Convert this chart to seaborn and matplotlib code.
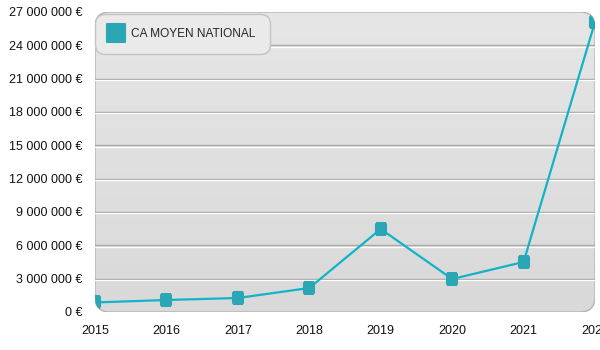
import numpy as np
import pandas as pd
import matplotlib
matplotlib.use("Agg")
import matplotlib.pyplot as plt
import matplotlib.transforms as mtransforms
from matplotlib.patches import FancyBboxPatch
from matplotlib.markers import MarkerStyle
from matplotlib.lines import Line2D
from matplotlib.ticker import FuncFormatter, MultipleLocator
import seaborn as sns

years = [2015, 2016, 2017, 2018, 2019, 2020, 2021, 2022]
ca_moyen = [860_000, 1_080_000, 1_260_000, 2_160_000, 7_470_000, 2_970_000, 4_500_000, 26_100_000]
series_name = "CA MOYEN NATIONAL"

df = pd.DataFrame({"annee": years, "ca": ca_moyen})

sns.set_theme(style="white")
plt.rcParams["font.family"] = ["Liberation Sans", "DejaVu Sans"]

line_color = "#12b3c6"
marker_color = "#2aa6b4"

fig = plt.figure(figsize=(6, 3.5), dpi=100)
ax = fig.add_axes([95 / 600, 1 - 312 / 350, 500 / 600, 300 / 350])
ax.set_facecolor("none")
for s in ax.spines.values():
    s.set_visible(False)

# rounded panel with a soft vertical gradient
panel = FancyBboxPatch((0, 0), 1, 1, boxstyle="round,pad=0,rounding_size=0.03",
                       transform=ax.transAxes, facecolor="none",
                       edgecolor="#b4b4b4", linewidth=1.0, zorder=0.5,
                       mutation_aspect=500 / 300)
ax.add_patch(panel)
grad = np.linspace(0, 1, 256).reshape(-1, 1)
img = ax.imshow(grad, extent=[0, 1, 0, 1], transform=ax.transAxes, aspect="auto",
                cmap=matplotlib.colors.LinearSegmentedColormap.from_list(
                    "panel", ["#e6e6e6", "#d9d9d9"]), origin="upper", zorder=0.2)
img.set_clip_path(panel)

ax.set_xlim(2015, 2022)
ax.set_ylim(0, 27_000_000)

# grid lines: grey rule with a white highlight just below
ax.yaxis.set_major_locator(MultipleLocator(3_000_000))
white_off = mtransforms.offset_copy(ax.transData, fig=fig, x=0, y=-1.2, units="dots")
for v in np.arange(3_000_000, 27_000_000, 3_000_000):
    ax.axhline(v, color="#a8a8a8", lw=1.0, zorder=1)
    ax.plot([2015, 2022], [v, v], color="white", lw=0.9, zorder=1, transform=white_off)

rounded_sq = MarkerStyle("s", joinstyle="round")
n_before = len(ax.lines)
sns.lineplot(data=df, x="annee", y="ca", ax=ax, color=line_color, linewidth=1.6,
             marker=rounded_sq, markersize=7.5, markerfacecolor=marker_color,
             markeredgecolor=marker_color, markeredgewidth=1.5, zorder=3)
for ln in ax.lines[n_before:]:
    ln.set_clip_on(True)
    ln.set_clip_path(panel)

ax.yaxis.set_major_formatter(FuncFormatter(
    lambda v, p: f"{int(round(v)):,}".replace(",", " ") + " €"))
ax.set_xticks(years)
ax.set_xticklabels([str(y) for y in years])
ax.tick_params(axis="both", length=0, labelsize=9, colors="#111111")
ax.tick_params(axis="y", pad=9)
ax.tick_params(axis="x", pad=9.5)
ax.set_xlabel("")
ax.set_ylabel("")
ax.grid(False)

handle = Line2D([], [], linestyle="none", marker=rounded_sq, markersize=13,
                markerfacecolor=marker_color, markeredgecolor=marker_color,
                markeredgewidth=1.5)
leg = ax.legend([handle], [series_name], loc="upper left", bbox_to_anchor=(0.0, 0.993),
                frameon=True, fancybox=True, shadow=False, fontsize=8.6,
                handletextpad=0.7, borderpad=1.15, handlelength=1.2,
                borderaxespad=0.0)
frame = leg.get_frame()
frame.set_facecolor("#eaeaea")
frame.set_edgecolor("#c4c4c4")
frame.set_alpha(1)
frame.set_boxstyle("round,pad=0.0,rounding_size=0.8")
leg.set_zorder(5)

fig.savefig("out.png", dpi=100)
